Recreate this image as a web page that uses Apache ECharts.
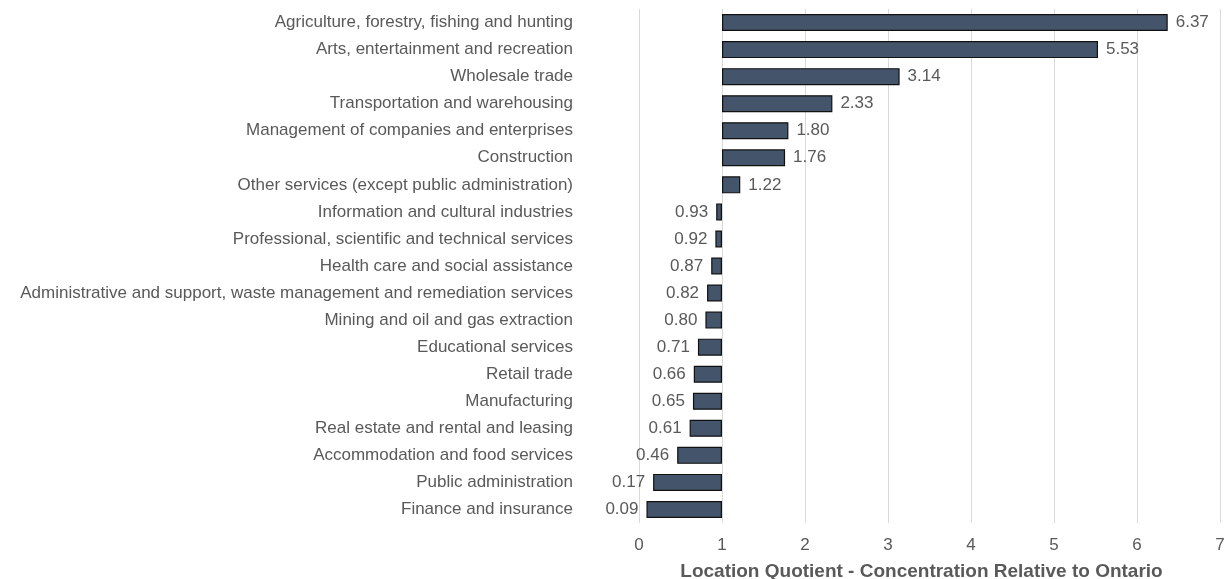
<!DOCTYPE html>
<html>
<head>
<meta charset="utf-8">
<script src="https://cdn.jsdelivr.net/npm/echarts@6/dist/echarts.min.js"></script>
<style>
  html, body { margin: 0; padding: 0; background: #fff; }
  #chart { width: 1225px; height: 579px; }
</style>
</head>
<body>
<div id="chart"></div>
<script>
  // industries, top to bottom
  var industries = [
    "Agriculture, forestry, fishing and hunting",
    "Arts, entertainment and recreation",
    "Wholesale trade",
    "Transportation and warehousing",
    "Management of companies and enterprises",
    "Construction",
    "Other services (except public administration)",
    "Information and cultural industries",
    "Professional, scientific and technical services",
    "Health care and social assistance",
    "Administrative and support, waste management and remediation services",
    "Mining and oil and gas extraction",
    "Educational services",
    "Retail trade",
    "Manufacturing",
    "Real estate and rental and leasing",
    "Accommodation and food services",
    "Public administration",
    "Finance and insurance"
  ];
  var lq = [6.37, 5.53, 3.14, 2.33, 1.80, 1.76, 1.22, 0.93, 0.92, 0.87, 0.82, 0.80, 0.71, 0.66, 0.65, 0.61, 0.46, 0.17, 0.09];
  var baseline = 1;
  var xTicks = [0, 7, 1]; // min, max, interval

  var textColor = "#595959";
  var font = "Liberation Sans, Arial, sans-serif";

  // bars grow from 1: invisible offset + visible part
  var offset = lq.map(function (v) { return Math.min(v, baseline); });
  var bars = lq.map(function (v) {
    return {
      value: Math.abs(v - baseline),
      label: {
        position: v >= baseline ? "right" : "left",
        formatter: v.toFixed(2)
      }
    };
  });

  var chart = echarts.init(document.getElementById("chart"));
  chart.setOption({
    animation: false,
    textStyle: { fontFamily: font },
    grid: { left: 639, right: 5, top: 9, bottom: 56, outerBoundsMode: "none" },
    xAxis: {
      type: "value",
      min: xTicks[0],
      max: xTicks[1],
      interval: xTicks[2],
      axisLine: { show: false },
      axisTick: { show: false },
      axisLabel: { color: textColor, fontSize: 17, margin: 14, fontFamily: font },
      splitLine: { lineStyle: { color: "#d9d9d9", width: 1 } },
      name: "Location Quotient - Concentration Relative to Ontario",
      nameLocation: "middle",
      nameGap: 39,
      nameTextStyle: {
        color: textColor, fontSize: 19, fontWeight: "bold", fontFamily: font,
        padding: [0, 16, 0, 0]
      }
    },
    yAxis: {
      type: "category",
      data: industries,
      inverse: true,
      axisLine: { show: false },
      axisTick: { show: false },
      axisLabel: { color: textColor, fontSize: 17, margin: 66, fontFamily: font },
      splitLine: { show: false }
    },
    series: [
      {
        type: "bar",
        stack: "lq",
        data: offset,
        barWidth: 17,
        itemStyle: { color: "transparent" },
        silent: true
      },
      {
        type: "bar",
        stack: "lq",
        data: bars,
        barWidth: 17,
        itemStyle: { color: "#44546A", borderColor: "#111", borderWidth: 1.2 },
        label: {
          show: true,
          color: textColor,
          fontSize: 17,
          distance: 8,
          fontFamily: font
        }
      }
    ]
  });
</script>
</body>
</html>
